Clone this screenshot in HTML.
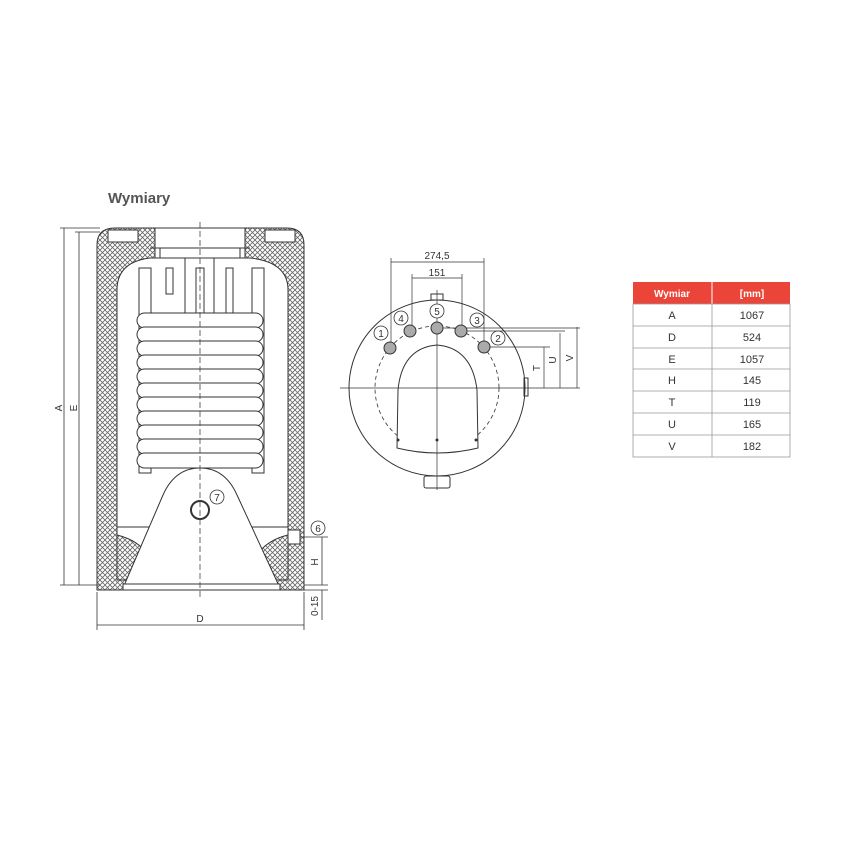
<!DOCTYPE html>
<html><head><meta charset="utf-8"><style>
body{margin:0;background:#fff}
svg{display:block}
text{font-family:"Liberation Sans",sans-serif}
</style></head><body>
<svg width="850" height="850" viewBox="0 0 850 850" xmlns="http://www.w3.org/2000/svg">
<defs>
<pattern id="hx" width="5" height="5" patternUnits="userSpaceOnUse">
<rect width="5" height="5" fill="#fff"/>
<path d="M0 0L5 5M5 0L0 5" stroke="#666" stroke-width="0.8"/>
</pattern>
</defs>
<text x="108" y="203" font-size="15" font-weight="bold" fill="#555">Wymiary</text>

<!-- side view -->
<g stroke="#333" stroke-width="1" fill="none">
<path d="M97 590 L97 245 Q97 228 115 228 L287 228 Q304 228 304 245 L304 590 Z" fill="url(#hx)"/>
<path d="M117 580 L117 290 Q117 262 150 258 L250 258 Q288 262 288 290 L288 580 Z" fill="#fff"/>
<rect x="155" y="228" width="90" height="30" fill="#fff"/>
<rect x="108" y="230" width="30" height="12" fill="#fff"/>
<rect x="265" y="230" width="30" height="12" fill="#fff"/>
<path d="M150 248 L250 248 M160 258 L160 248 M240 258 L240 248"/>
<rect x="139" y="268" width="12" height="205" fill="#fff"/>
<rect x="252" y="268" width="12" height="205" fill="#fff"/>
<rect x="166" y="268" width="7" height="26"/>
<rect x="196" y="268" width="8" height="50"/>
<rect x="226" y="268" width="7" height="50"/>
<path d="M185 258 V320 M214 258 V320"/>
<path d="M117 527 H288"/>
</g>
<g stroke="#333" stroke-width="1" fill="#fff">
<rect x="137" y="313" width="126" height="15" rx="7.5"/>
<rect x="137" y="327" width="126" height="15" rx="7.5"/>
<rect x="137" y="341" width="126" height="15" rx="7.5"/>
<rect x="137" y="355" width="126" height="15" rx="7.5"/>
<rect x="137" y="369" width="126" height="15" rx="7.5"/>
<rect x="137" y="383" width="126" height="15" rx="7.5"/>
<rect x="137" y="397" width="126" height="15" rx="7.5"/>
<rect x="137" y="411" width="126" height="15" rx="7.5"/>
<rect x="137" y="425" width="126" height="15" rx="7.5"/>
<rect x="137" y="439" width="126" height="15" rx="7.5"/>
<rect x="137" y="453" width="126" height="15" rx="7.5"/>
<path d="M117 580 L117 535 Q138 540 148 555 L138 580 Z" fill="url(#hx)"/>
<path d="M288 580 L288 535 Q267 540 257 555 L267 580 Z" fill="url(#hx)"/>
<path d="M123 588 L163 495 Q175 468 200 468 Q225 468 237 495 L280 588 Z"/>
<rect x="123" y="584" width="157" height="6"/>
<circle cx="200" cy="510" r="9" stroke-width="2"/>
<circle cx="217" cy="497" r="7" stroke-width="0.8"/>
<rect x="288" y="530" width="12" height="14"/>
<circle cx="318" cy="528" r="7" stroke-width="0.8"/>
</g>
<path d="M200 222 V600" stroke="#444" stroke-width="0.8" stroke-dasharray="6 3" fill="none"/>
<text x="217" y="501" font-size="10" text-anchor="middle" fill="#333">7</text>
<text x="318" y="532" font-size="10" text-anchor="middle" fill="#333">6</text>
<g stroke="#333" stroke-width="0.8" fill="none">
<path d="M60 228 H100 M60 585 H100 M64 228 V585 M75 232 H100 M79 232 V585"/>
<path d="M97 592 V630 M304 592 V630 M97 625 H304"/>
<path d="M300 537 H328 M304 585 H328 M304 590 H328 M322 537 V585 M322 590 V620"/>
</g>
<text x="62" y="408" font-size="10" fill="#333" transform="rotate(-90 62 408)" text-anchor="middle">A</text>
<text x="77" y="408" font-size="10" fill="#333" transform="rotate(-90 77 408)" text-anchor="middle">E</text>
<text x="200" y="622" font-size="10" fill="#333" text-anchor="middle">D</text>
<text x="318" y="562" font-size="10" fill="#333" transform="rotate(-90 318 562)" text-anchor="middle">H</text>
<text x="318" y="606" font-size="10" fill="#333" transform="rotate(-90 318 606)" text-anchor="middle">0-15</text>

<!-- top view -->
<g stroke="#333" stroke-width="1" fill="none">
<circle cx="437" cy="388" r="88" fill="#fff"/>
<circle cx="437" cy="388" r="62" stroke-dasharray="4 3" stroke-width="0.8"/>
<path d="M397 448 L398 390 Q402 348 437 345 Q472 348 477 390 L478 448 Q437 458 397 448 Z" fill="#fff"/>
<rect x="424" y="476" width="26" height="12" rx="2"/>
<rect x="431" y="294" width="12" height="6"/>
<rect x="524" y="378" width="4" height="18"/>
<path d="M340 388 H580 M437 290 V490" stroke-width="0.7"/>
<path d="M391 262 H484 M391 258 V345 M484 258 V345 M412 278 H462 M412 274 V330 M462 274 V330" stroke-width="0.7"/>
<path d="M437 328 H580 M462 331 H565 M484 347 H550 M544 347 V388 M560 333 V388 M577 327 V388" stroke-width="0.7"/>
</g>
<g stroke="#333" fill="#aaa" stroke-width="1">
<circle cx="390" cy="348" r="6"/><circle cx="410" cy="331" r="6"/><circle cx="437" cy="328" r="6"/><circle cx="461" cy="331" r="6"/><circle cx="484" cy="347" r="6"/>
</g>
<g fill="#fff" stroke="#333" stroke-width="0.8">
<circle cx="381" cy="333" r="7"/><circle cx="401" cy="318" r="7"/><circle cx="437" cy="311" r="7"/><circle cx="477" cy="320" r="7"/><circle cx="498" cy="338" r="7"/>
</g>
<g font-size="10" fill="#333" text-anchor="middle">
<text x="381" y="337">1</text><text x="401" y="322">4</text><text x="437" y="315">5</text><text x="477" y="324">3</text><text x="498" y="342">2</text>
<text x="437" y="259">274,5</text><text x="437" y="276">151</text>
</g>
<text x="540" y="368" font-size="10" fill="#333" transform="rotate(-90 540 368)" text-anchor="middle">T</text>
<text x="556" y="360" font-size="10" fill="#333" transform="rotate(-90 556 360)" text-anchor="middle">U</text>
<text x="573" y="358" font-size="10" fill="#333" transform="rotate(-90 573 358)" text-anchor="middle">V</text>
<g fill="#333"><circle cx="398" cy="440" r="1.5"/><circle cx="437" cy="440" r="1.5"/><circle cx="476" cy="440" r="1.5"/></g>

<!-- table -->
<rect x="633" y="282" width="157" height="22" fill="#ea4538"/>
<line x1="712" y1="282" x2="712" y2="304" stroke="#fff"/>
<text x="672" y="297" font-size="10" font-weight="bold" fill="#fff" text-anchor="middle">Wymiar</text>
<text x="752" y="297" font-size="10" font-weight="bold" fill="#fff" text-anchor="middle">[mm]</text>
<g stroke="#999" stroke-width="0.8" fill="none">
<rect x="633" y="304" width="157" height="153"/>
<path d="M712 304 V457 M633 326 H790 M633 348 H790 M633 369 H790 M633 391 H790 M633 413 H790 M633 435 H790"/>
</g>
<g font-size="11" fill="#333" text-anchor="middle">
<text x="672" y="319">A</text><text x="752" y="319">1067</text>
<text x="672" y="341">D</text><text x="752" y="341">524</text>
<text x="672" y="363">E</text><text x="752" y="363">1057</text>
<text x="672" y="384">H</text><text x="752" y="384">145</text>
<text x="672" y="406">T</text><text x="752" y="406">119</text>
<text x="672" y="428">U</text><text x="752" y="428">165</text>
<text x="672" y="450">V</text><text x="752" y="450">182</text>
</g>
</svg>
</body></html>
